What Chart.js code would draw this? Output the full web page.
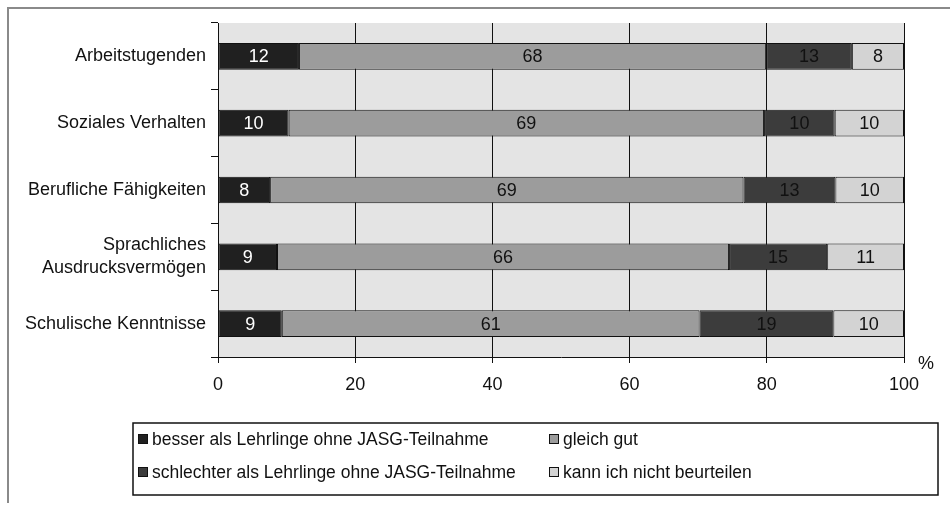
<!DOCTYPE html>
<html>
<head>
<meta charset="utf-8">
<script src="https://cdn.jsdelivr.net/npm/chart.js@4/dist/chart.umd.min.js"></script>
<style>
  html, body { margin: 0; padding: 0; background: #fff; }
  #wrap { width: 950px; height: 505px; position: relative; }
</style>
</head>
<body>
<div id="wrap"><canvas id="chart" width="950" height="505"></canvas></div>
<script>
// Kategorien (von oben nach unten)
const categories = [
  'Arbeitstugenden',
  'Soziales Verhalten',
  'Berufliche Fähigkeiten',
  ['Sprachliches', 'Ausdrucksvermögen'],
  'Schulische Kenntnisse'
];

// Anteile in % (aus der Grafik geschätzt)
const besser     = [11.8, 10.3, 7.6, 8.6, 9.3];
const gleichGut  = [68.1, 69.3, 69.0, 65.9, 60.9];
const schlechter = [12.5, 10.3, 13.4, 14.3, 19.5];
const kannNicht  = [7.6, 10.1, 10.0, 11.2, 10.3];

// angezeigte Beschriftungen in den Balken
const besserLabels     = [12, 10, 8, 9, 9];
const gleichGutLabels  = [68, 69, 69, 66, 61];
const schlechterLabels = [13, 10, 13, 15, 19];
const kannNichtLabels  = [8, 10, 10, 11, 10];

const xTicks = [0, 20, 40, 60, 80, 100];

const seriesNames = [
  'besser als Lehrlinge ohne JASG-Teilnahme',
  'gleich gut',
  'schlechter als Lehrlinge ohne JASG-Teilnahme',
  'kann ich nicht beurteilen'
];
const colors = ['#202020', '#9c9c9c', '#3c3c3c', '#d3d3d3'];
const textColors = ['#ffffff', '#111111', '#111111', '#111111'];
const FONT = 'Liberation Sans, Arial, sans-serif';

// Hintergrund, Rahmen, Balkenzahlen, Legende
const extras = {
  id: 'extras',
  beforeDraw(chart) {
    const { ctx, chartArea: a } = chart;
    ctx.save();
    ctx.fillStyle = '#e4e4e4';
    ctx.fillRect(a.left, a.top, a.right - a.left, a.bottom - a.top);
    ctx.restore();
  },
  afterDatasetsDraw(chart) {
    const ctx = chart.ctx;
    ctx.save();
    ctx.font = '18px ' + FONT;
    ctx.textAlign = 'center';
    ctx.textBaseline = 'middle';
    chart.data.datasets.forEach((ds, i) => {
      const meta = chart.getDatasetMeta(i);
      meta.data.forEach((bar, j) => {
        ctx.fillStyle = textColors[i];
        ctx.fillText(String(ds.shownLabels[j]), (bar.x + bar.base) / 2, bar.y + 1);
      });
    });
    ctx.restore();
  },
  afterDraw(chart) {
    const ctx = chart.ctx;
    const a = chart.chartArea;
    ctx.save();
    // äußerer Rahmen
    ctx.strokeStyle = '#8a8a8a';
    ctx.lineWidth = 2;
    ctx.beginPath();
    ctx.moveTo(950, 8);
    ctx.lineTo(8, 8);
    ctx.lineTo(8, 503);
    ctx.stroke();

    // Prozentzeichen
    ctx.fillStyle = '#111';
    ctx.font = '18px ' + FONT;
    ctx.textAlign = 'left';
    ctx.textBaseline = 'middle';
    ctx.fillText('%', a.right + 14, a.bottom + 7);

    // Legende
    ctx.strokeStyle = '#111';
    ctx.lineWidth = 1.5;
    ctx.strokeRect(133, 423, 805, 72);
    const pos = [[138, 439], [549, 439], [138, 472], [549, 472]];
    ctx.font = '17.5px ' + FONT;
    chart.data.datasets.forEach((ds, i) => {
      const [x, y] = pos[i];
      ctx.fillStyle = ds.backgroundColor;
      ctx.fillRect(x, y - 5, 10, 10);
      ctx.lineWidth = 1;
      ctx.strokeRect(x + 0.5, y - 4.5, 9, 9);
      ctx.fillStyle = '#111';
      ctx.fillText(ds.label, x + 14, y + 1);
    });
    ctx.restore();
  }
};

const valueSets = [besser, gleichGut, schlechter, kannNicht];
const labelSets = [besserLabels, gleichGutLabels, schlechterLabels, kannNichtLabels];

new Chart(document.getElementById('chart'), {
  type: 'bar',
  data: {
    labels: categories,
    datasets: valueSets.map((vals, i) => ({
      label: seriesNames[i],
      data: vals,
      shownLabels: labelSets[i],
      backgroundColor: colors[i],
      borderColor: '#111',
      borderWidth: 1,
      borderSkipped: false,
      barPercentage: 0.4,
      categoryPercentage: 1
    }))
  },
  options: {
    indexAxis: 'y',
    responsive: false,
    animation: false,
    layout: { padding: { left: 0, top: 23, right: 46, bottom: 108 } },
    plugins: { legend: { display: false }, tooltip: { enabled: false } },
    scales: {
      x: {
        stacked: true,
        min: 0,
        max: 100,
        afterBuildTicks(scale) { scale.ticks = xTicks.map(v => ({ value: v })); },
        afterFit(scale) { scale.height = 40; },
        grid: { color: '#111', lineWidth: 1, tickLength: 6, drawTicks: true },
        border: { color: '#111', width: 1 },
        ticks: { color: '#111', font: { family: FONT, size: 18 }, padding: 11, maxRotation: 0 }
      },
      y: {
        stacked: true,
        afterFit(scale) { scale.width = 218; },
        grid: { drawOnChartArea: false, color: '#111', tickLength: 7, offset: true },
        border: { color: '#111', width: 1 },
        ticks: { color: '#111', font: { family: FONT, size: 18, lineHeight: 1.3 }, padding: 5 }
      }
    }
  },
  plugins: [extras]
});
</script>
</body>
</html>
